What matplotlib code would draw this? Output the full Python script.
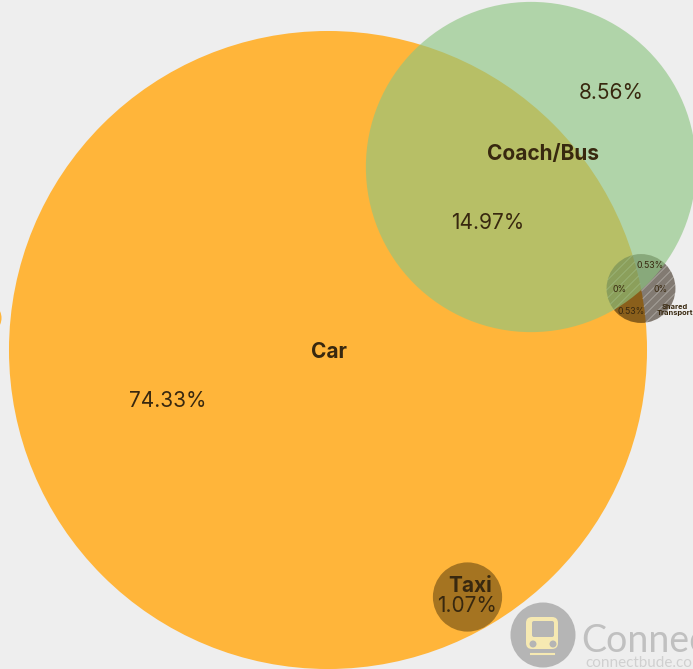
import numpy as np
import matplotlib
matplotlib.use("Agg")
import matplotlib.pyplot as plt
from matplotlib.patches import Circle, FancyBboxPatch

plt.rcParams['font.family'] = ['Inter', 'DejaVu Sans']

# region shares in percent, as printed on the chart
car_only = 74.33
car_coach = 14.97
coach_only = 8.56
taxi_share = 1.07
coach_shared = 0.53
car_shared = 0.53

# circle area follows the total of each set
set_names = ["Car", "Coach/Bus", "Taxi", "Shared Transport"]
set_totals = [car_only + car_coach + taxi_share + car_shared,
              coach_only + car_coach + coach_shared,
              taxi_share,
              coach_shared + car_shared]

# layout in pixels of the 693x669 picture
px_per_sqrt = 33.46
centres = {"Car": (328, 350), "Coach/Bus": (531, 167), "Taxi": (467.5, 597), "Shared Transport": (641, 288.5)}
radii = {n: px_per_sqrt * np.sqrt(t) for n, t in zip(set_names, set_totals)}
radii["Coach/Bus"] = radii["Coach/Bus"] + 1

BG = "#eeeeee"
TXT = "#38280f"

fig = plt.figure(figsize=(6.93, 6.69), dpi=100, facecolor=BG)
ax = fig.add_axes([0, 0, 1, 1])
ax.set_xlim(0, 693)
ax.set_ylim(669, 0)
ax.axis("off")

# sliver of another circle at the left edge
ax.add_patch(Circle((-15, 318), 16.5, fc="#ffb53a", ec="none", zorder=1))

ax.add_patch(Circle(centres["Car"], radii["Car"], fc="#ffb53a", ec="none", zorder=1))
ax.add_patch(Circle(centres["Taxi"], radii["Taxi"], fc="#2a1a00", ec="none", alpha=0.42, zorder=2))
ax.add_patch(Circle(centres["Shared Transport"], radii["Shared Transport"], fc="#201000", ec="none", alpha=0.52, zorder=2))


def inside(x, y, name):
    cx, cy = centres[name]
    return (x - cx) ** 2 + (y - cy) ** 2 < radii[name] ** 2


# white diagonal hatching on two parts of the small circle
sx, sy = centres["Shared Transport"]
t = np.linspace(-50, 50, 500)
for off in np.arange(-60, 60, 9):
    x = sx + t
    y = sy - t + off
    in_car = inside(x, y, "Car")
    in_coach = inside(x, y, "Coach/Bus")
    keep = inside(x, y, "Shared Transport") & (in_car == in_coach)
    ax.plot(np.where(keep, x, np.nan), y, color="white", lw=0.7, alpha=0.3, zorder=3)

# coach circle goes over the small one, which lightens the shared part
ax.add_patch(Circle(centres["Coach/Bus"], radii["Coach/Bus"], fc="#8dc581", ec="none", alpha=0.63, zorder=4))

# labels
ax.text(329, 352, "Car", fontsize=15, fontweight="bold", color=TXT, ha="center", va="center", zorder=6)
ax.text(543, 154, "Coach/Bus", fontsize=15, fontweight="bold", color=TXT, ha="center", va="center", zorder=6)
ax.text(470, 586, "Taxi", fontsize=15, fontweight="bold", color=TXT, ha="center", va="center", zorder=6)
ax.text(675, 310, "Shared\nTransport", fontsize=5.4, fontweight="bold", color=TXT, ha="center", va="center",
        linespacing=1.05, zorder=6)

ax.text(168, 401, f"{car_only}%", fontsize=15, color=TXT, ha="center", va="center", zorder=6)
ax.text(488, 223, f"{car_coach}%", fontsize=15, color=TXT, ha="center", va="center", zorder=6)
ax.text(611, 93, f"{coach_only}%", fontsize=15, color=TXT, ha="center", va="center", zorder=6)
ax.text(467, 606, f"{taxi_share}%", fontsize=15, color=TXT, ha="center", va="center", zorder=6)
ax.text(650, 266, f"{coach_shared}%", fontsize=6.3, color=TXT, ha="center", va="center", zorder=6)
ax.text(631, 312, f"{car_shared}%", fontsize=6.3, color=TXT, ha="center", va="center", zorder=6)
ax.text(620, 290, "0%", fontsize=6.3, color=TXT, ha="center", va="center", zorder=6)
ax.text(661, 290, "0%", fontsize=6.3, color=TXT, ha="center", va="center", zorder=6)

# watermark logo
ax.add_patch(Circle((543, 635), 32.5, fc="#b5b5b5", ec="none", zorder=7))
ax.add_patch(FancyBboxPatch((530, 621), 24, 24, boxstyle="round,pad=4,rounding_size=6",
                            fc="#f6e9b2", ec="none", zorder=8))
ax.add_patch(FancyBboxPatch((533, 622), 20, 14, boxstyle="round,pad=1,rounding_size=2",
                            fc="#b5b5b5", ec="none", zorder=9))
ax.add_patch(Circle((533, 644), 3.5, fc="#b5b5b5", ec="none", zorder=9))
ax.add_patch(Circle((553, 644), 3.5, fc="#b5b5b5", ec="none", zorder=9))
ax.plot([531, 554], [654, 654], color="#f6e9b2", lw=1.5, zorder=9)
ax.text(581, 652, "Connect", fontsize=27, family="Lato", color="#c0c0c0",
        ha="left", va="baseline", zorder=7)
ax.text(585, 667, "connectbude.com", fontsize=11, family="Lato", color="#d0d0d0",
        ha="left", va="baseline", zorder=7)

fig.savefig("out.png", dpi=100, facecolor=BG)
